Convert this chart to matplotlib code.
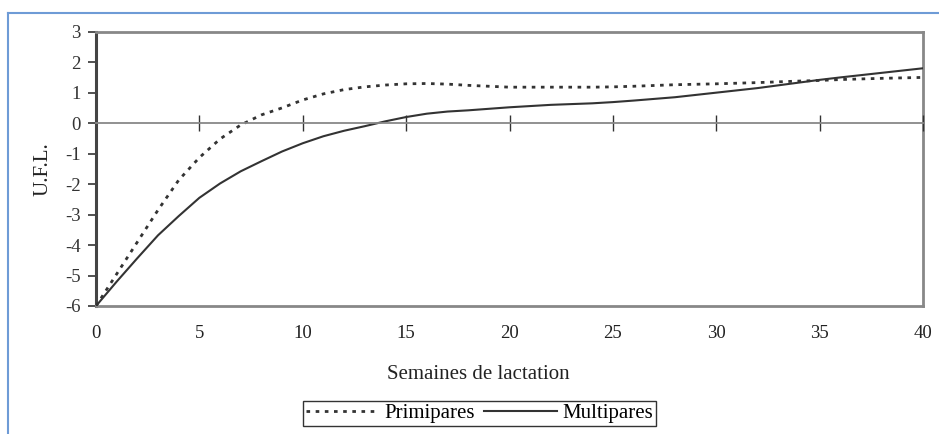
import matplotlib
matplotlib.use("Agg")
import matplotlib.pyplot as plt
from matplotlib.lines import Line2D

plt.rcParams['font.family'] = ['Liberation Serif', 'DejaVu Serif']

# ---- data ----
weeks = [0, 1, 2, 3, 4, 5, 6, 7, 8, 9, 10, 11, 12, 13, 14, 15, 16, 17, 18,
         20, 22, 24, 25, 26, 28, 30, 32, 34, 35, 36, 38, 40]
primipares = [-6.0, -4.95, -3.9, -2.85, -1.87, -1.13, -0.52, -0.06, 0.27, 0.5,
              0.76, 0.96, 1.1, 1.19, 1.25, 1.29, 1.3, 1.28, 1.24,
              1.18, 1.18, 1.18, 1.19, 1.21, 1.26, 1.29, 1.33, 1.38, 1.4, 1.43, 1.47, 1.5]
multipares = [-6.0, -5.2, -4.43, -3.68, -3.05, -2.45, -1.98, -1.58, -1.25, -0.93,
              -0.66, -0.43, -0.25, -0.1, 0.06, 0.2, 0.31, 0.38, 0.42,
              0.52, 0.6, 0.65, 0.69, 0.74, 0.85, 1.0, 1.15, 1.33, 1.42, 1.5, 1.65, 1.8]
xticks = [0, 5, 10, 15, 20, 25, 30, 35, 40]
yticks = [-6, -5, -4, -3, -2, -1, 0, 1, 2, 3]
series_names = ["Primipares", "Multipares"]
xlabel = "Semaines de lactation"
ylabel = "U.F.L."

fig = plt.figure(figsize=(9.39, 4.34), dpi=100)
pos = [96/939, 1-306/434, (923-96)/939, (306-31.7)/434]

ax = fig.add_axes(pos)
ax.set_zorder(1)
ax.patch.set_visible(False)
ax.plot(weeks, primipares, color='#333333', lw=2.0, linestyle=(0, (1.3, 2.0)),
        label=series_names[0], zorder=3)
ax.plot(weeks, multipares, color='#333333', lw=1.5, linestyle='-',
        label=series_names[1], zorder=3)

ax.set_xlim(0, 40)
ax.set_ylim(-6, 3)
ax.set_xticks(xticks)
ax.set_yticks(yticks)
ax.tick_params(axis='x', length=0, pad=14, labelsize=13.5, colors='#222222')
ax.tick_params(axis='y', direction='out', length=6, width=1.2, pad=5,
               labelsize=13.5, colors='#333333')
ax.set_yticklabels([str(v) for v in yticks])
for s in ['top', 'right', 'bottom']:
    ax.spines[s].set_color('#888888')
    ax.spines[s].set_linewidth(2.0)
ax.spines['left'].set_color('#444444')
ax.spines['left'].set_linewidth(2.2)

ax.set_xlabel(xlabel, fontsize=15, color='#222222')
ax.xaxis.set_label_coords(0.4625, -0.214)
ax.set_ylabel(ylabel, fontsize=15, labelpad=9, color='#222222')

# zero axis with crossing ticks (drawn on top)
az = fig.add_axes(pos)
az.set_zorder(2)
az.patch.set_visible(False)
for s in ['top', 'right', 'left']:
    az.spines[s].set_visible(False)
az.spines['bottom'].set_position(('data', 0))
az.spines['bottom'].set_color('#888888')
az.spines['bottom'].set_linewidth(1.3)
az.set_xlim(0, 40)
az.set_ylim(-6, 3)
az.set_xticks(xticks[1:])
az.tick_params(axis='x', direction='inout', length=12, width=1.0, colors='#333333',
               labelbottom=False)
az.tick_params(axis='y', left=False, labelleft=False)
az.set_yticks([])

leg = fig.legend(*ax.get_legend_handles_labels(), ncol=2, loc='center',
                 bbox_to_anchor=(479.5/939, 1-413.5/434),
                 frameon=True, fancybox=False, edgecolor='black', fontsize=15,
                 handlelength=3.5, handletextpad=0.25, columnspacing=0.45,
                 borderpad=0.15, borderaxespad=0)
leg.get_frame().set_linewidth(1.0)

# outer blue frame
blue = '#6E9BD6'
fig.add_artist(Line2D([8/939, 8/939], [0, 1-13/434], transform=fig.transFigure,
                      color=blue, lw=1.5))
fig.add_artist(Line2D([8/939, 1], [1-13/434, 1-13/434], transform=fig.transFigure,
                      color=blue, lw=1.5))

fig.savefig('out.png', dpi=100)
